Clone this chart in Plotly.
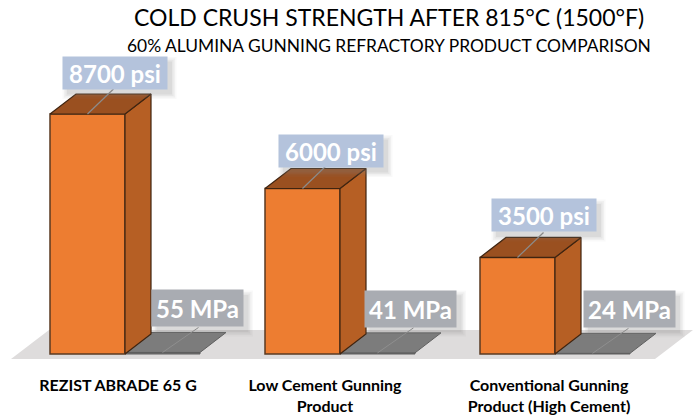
import plotly.graph_objects as go

categories = ["REZIST ABRADE 65 G", "Low Cement Gunning<br>Product", "Conventional Gunning<br>Product (High Cement)"]
psi_values = [8700, 6000, 3500]
mpa_values = [55, 41, 24]
psi_labels = ["8700 psi", "6000 psi", "3500 psi"]
mpa_labels = ["55 MPa", "41 MPa", "24 MPa"]
title_text = "COLD CRUSH STRENGTH AFTER 815°C (1500°F)"
subtitle_text = "60% ALUMINA GUNNING REFRACTORY PRODUCT COMPARISON"

W, H = 693, 415
FONT = "Lato"
PX_X = 215.0            # pixels per category
PX_Y = 240.0 / 8700     # pixels per axis unit
GROUP0 = 125.0          # pixel of first group's centre
BASE = 354.0            # pixel of zero
PLOT_BOTTOM = 372.0
BW = 75.0 / PX_X        # bar width in category units
DX = 26.0 / PX_X        # depth offset
DY = 20.0 / PX_Y

xr = [-GROUP0 / PX_X, (W - GROUP0) / PX_X]
yr = [-(PLOT_BOTTOM - BASE) / PX_Y, BASE / PX_Y]
idx = list(range(len(categories)))
label_offsets = [-7, -15, -6]

fig = go.Figure()

annotations = []
shapes = []

# floor
fx = [xr[0] + 11 / PX_X, xr[0] + 655 / PX_X, xr[1], xr[0] + 49 / PX_X]
fy = [-5 / PX_Y, -5 / PX_Y, 24 / PX_Y, 24 / PX_Y]
shapes.append(dict(type="path", xref="x", yref="y", layer="below", fillcolor="#DEDCDC", line=dict(width=0),
                   path="M " + " L ".join(f"{a},{b}" for a, b in zip(fx, fy)) + " Z"))


def box3d(x0, v, top, side, edge, ew):
    x1 = x0 + BW
    if side:
        fig.add_trace(go.Scatter(x=[x1, x1 + DX, x1 + DX, x1, x1], y=[0, DY, v + DY, v, 0],
                                 fill="toself", fillcolor=side, mode="lines",
                                 line=dict(color=edge, width=ew), hoverinfo="skip", showlegend=False))
    fig.add_trace(go.Scatter(x=[x0, x1, x1 + DX, x0 + DX, x0], y=[v, v, v + DY, v + DY, v],
                             fill="toself", fillcolor=top, mode="lines",
                             line=dict(color=edge, width=ew), hoverinfo="skip", showlegend=False))


for i in idx:
    box3d(i, mpa_values[i], "#7C7C7C", None, "#5E5E5E", 1)
for i in idx:
    box3d(i - BW, psi_values[i], "#9A5020", "#B65F24", "#3F2410", 1.2)

fig.add_trace(go.Bar(x=idx, y=psi_values, width=BW, offset=-BW, marker=dict(color="#ED7D31", line=dict(color="#5A3A22", width=1.5)),
                     hoverinfo="skip", showlegend=False))
fig.add_trace(go.Bar(x=idx, y=mpa_values, width=BW, offset=0, marker=dict(color="#6E6E6E", line=dict(color="#5E5E5E", width=1)),
                     hoverinfo="skip", showlegend=False))

# leader lines
for i in idx:
    ax = i - BW / 2
    fig.add_trace(go.Scatter(x=[ax, ax + 26 / PX_X], y=[psi_values[i], psi_values[i] + 25 / PX_Y], mode="lines",
                             line=dict(color="#8C8C8C", width=1.2), hoverinfo="skip", showlegend=False))
    bx = i + BW / 2
    fig.add_trace(go.Scatter(x=[bx, bx + 36 / PX_X], y=[mpa_values[i], mpa_values[i] + 25 / PX_Y], mode="lines",
                             line=dict(color="#8F8F8F", width=1), hoverinfo="skip", showlegend=False))


def label(x, v, text, shift, size, bg):
    xs, ys = shift
    w, h = size
    annotations.append(dict(x=x, y=v, xref="x", yref="y", text=text, showarrow=False,
                            xshift=xs, yshift=ys, width=w, height=h, bgcolor=bg, align="center", valign="middle",
                            xanchor="center", yanchor="middle",
                            font=dict(family=FONT, size=24, color="white", weight=700), borderpad=0))
    cx = GROUP0 + x * PX_X + xs
    cy = BASE - v * PX_Y - ys
    for grow, op in [(5, 0.05), (3.5, 0.07), (2, 0.09), (0.5, 0.12)]:
        x0, x1 = cx - w / 2 + 5 - grow, cx + w / 2 + 5 + grow
        y0, y1 = cy - h / 2 + 5 - grow, cy + h / 2 + 5 + grow
        shapes.append(dict(type="rect", xref="paper", yref="paper", x0=x0 / W, x1=x1 / W,
                           y0=1 - y1 / PLOT_BOTTOM, y1=1 - y0 / PLOT_BOTTOM,
                           fillcolor="#808080", opacity=op, line=dict(width=0), layer="above"))


psi_shifts = [(27, 41), (28, 37.5), (26, 42)]
mpa_shifts = [(35, 44), (33, 44), (36.5, 44)]
for i in idx:
    label(i - BW / 2, psi_values[i], psi_labels[i], psi_shifts[i], (104, 32), "#B4C3DC")
    label(i + BW / 2, mpa_values[i], mpa_labels[i], mpa_shifts[i], (91, 36), "#A9ACB2")

annotations.append(dict(xref="paper", yref="paper", x=389 / W, y=1 - 17 / PLOT_BOTTOM, text=title_text, showarrow=False,
                        xanchor="center", yanchor="middle", font=dict(family=FONT, size=23, color="black")))
annotations.append(dict(xref="paper", yref="paper", x=389 / W, y=1 - 45 / PLOT_BOTTOM, text=subtitle_text, showarrow=False,
                        xanchor="center", yanchor="middle", font=dict(family=FONT, size=17.4, color="black")))

fig.update_layout(
    width=W, height=H, margin=dict(l=0, r=0, t=0, b=H - PLOT_BOTTOM, autoexpand=False),
    paper_bgcolor="white", plot_bgcolor="white", barmode="overlay", showlegend=False,
    hovermode=False, annotations=annotations, shapes=shapes,
    xaxis=dict(range=xr, tickvals=[i + o / PX_X for i, o in zip(idx, label_offsets)], ticktext=categories,
               showgrid=False, zeroline=False, showline=False, ticks="", ticklabelstandoff=2,
               tickfont=dict(family=FONT, size=16, color="black", weight=700), tickangle=0),
    yaxis=dict(range=yr, visible=False),
)
fig.write_html("out.html", config={"displayModeBar": False}, post_script="document.body.style.margin='0';")
